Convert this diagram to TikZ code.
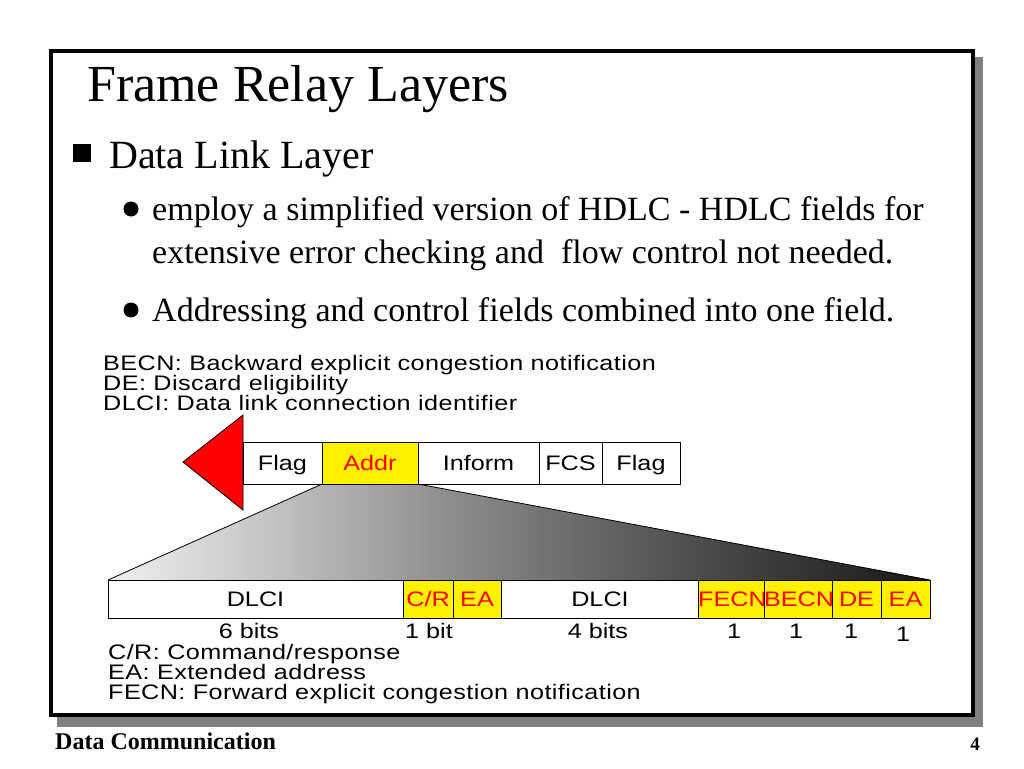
\documentclass[tikz,border=0pt]{standalone}
\usepackage{fontspec}
\setmainfont{Liberation Serif}
\newfontfamily\arialw[FakeStretch=1.2]{Liberation Sans}
\newfontfamily\ariall[FakeStretch=1.2,LetterSpace=2]{Liberation Sans}
\definecolor{shadowgray}{HTML}{808080}
\definecolor{ga}{HTML}{F0F0F0}
\definecolor{gb}{HTML}{C3C3C3}
\definecolor{gc}{HTML}{919191}
\definecolor{gd}{HTML}{646464}
\definecolor{ge}{HTML}{3C3C3C}
\definecolor{gf}{HTML}{181818}
\pgfdeclarehorizontalshading{fan}{100bp}{color(0bp)=(ga); color(25bp)=(ga); color(35bp)=(gb); color(45bp)=(gc); color(55bp)=(gd); color(65bp)=(ge); color(75bp)=(gf); color(100bp)=(gf)}
\begin{document}
\begin{tikzpicture}[x=1pt,y=-1pt,
  slidetxt/.style={inner sep=0pt, anchor=base west},
  diag/.style={font=\arialw\fontsize{21}{21}\selectfont},
  legend/.style={inner sep=0pt, anchor=north west, align=left, font=\ariall\fontsize{21}{20}\selectfont},
  difftxt/.style={diag, inner sep=0pt},
  fbox/.style={draw=black, line width=0.8pt, inner sep=0pt, text height=15pt, text depth=0pt, diag, fill=white},
  topbox/.style={fbox, minimum height=42},
  botbox/.style={fbox, minimum height=38},
  ylw/.style={fill=yellow, text=red},
  dot/.style={circle, fill=black, inner sep=0pt, minimum size=15}]
\useasboundingbox (0,0) rectangle (1024,768);
\fill[white] (0,0) rectangle (1024,768);
% frame
\fill[shadowgray] (57,57) rectangle (983,727);
\draw[line width=4pt, fill=white] (51,51) rectangle (973,715);
% slide text
\node[slidetxt, font=\fontsize{52}{52}\selectfont] (title) at (87,101) {Frame Relay Layers};
\node[fill=black, inner sep=0pt, minimum size=18] (sq) at (82,153) {};
\node[slidetxt, font=\fontsize{40}{40}\selectfont] (dll) at (109,168) {Data Link Layer};
\node[dot] (b1) at (131,209) {};
\node[slidetxt, font=\fontsize{34}{34}\selectfont] (l1) at (152,220) {employ a simplified version of HDLC - HDLC fields for};
\node[slidetxt, font=\fontsize{34}{34}\selectfont] (l2) at (152,263) {extensive error checking and\ \ flow control not needed.};
\node[dot] (b2) at (131,310) {};
\node[slidetxt, font=\fontsize{34}{34}\selectfont] (l3) at (152,321) {Addressing and control fields combined into one field.};
% top legend
\node[legend] (lgtop) at (103,355) {BECN: Backward explicit congestion notification\\DE: Discard eligibility\\DLCI: Data link connection identifier};
% gradient fan
\shade[shading=fan] (322,484) -- (418,484) -- (930,580) -- (108,580) -- cycle;
\coordinate (fl) at (322,484);
\coordinate (fr) at (418,484);
\coordinate (bl) at (108,580);
\coordinate (br) at (930,580);
\draw[line width=0.8pt] (fl) -- (bl);
\draw[line width=0.8pt] (fr) -- (br);
% red triangle
\draw[line width=0.8pt, fill=red] (243,415) -- (243,510) -- (183,462) -- cycle;
% frame boxes
\node[topbox, minimum width=79] (flag1) at (282.5,463) {Flag};
\node[topbox, ylw, minimum width=96] (addr) at (370,463) {Addr};
\node[topbox, minimum width=121] (inform) at (478.5,463) {Inform};
\node[topbox, minimum width=63] (fcs) at (570.5,463) {FCS};
\node[topbox, minimum width=78] (flag2) at (641,463) {Flag};
% address field boxes
\node[botbox, minimum width=295] (dlci1) at (255.5,599) {DLCI};
\node[botbox, ylw, minimum width=50] (cr) at (428,599) {C/R};
\node[botbox, ylw, minimum width=48] (ea1) at (477,599) {EA};
\node[botbox, minimum width=198] (dlci2) at (600,599) {DLCI};
\node[botbox, ylw, minimum width=67] (fecn) at (732.5,599) {FECN};
\node[botbox, ylw, minimum width=66] (becn) at (799,599) {BECN};
\node[botbox, ylw, minimum width=49] (de) at (856.5,599) {DE};
\node[botbox, ylw, minimum width=49] (ea2) at (905.5,599) {EA};
% bit counts
\node[difftxt, anchor=base] (n6) at (249,638.5) {6 bits};
\node[difftxt, anchor=base west] (n1) at (405,638.5) {1 bit};
\node[difftxt, anchor=base] (n4) at (598,638.5) {4 bits};
\node[difftxt, anchor=base] (o1) at (734,638.5) {1};
\node[difftxt, anchor=base] (o2) at (796,638.5) {1};
\node[difftxt, anchor=base] (o3) at (851,638.5) {1};
\node[difftxt, anchor=base] (o4) at (903,641.5) {1};
% bottom legend
\node[legend] (lgbot) at (108,644.5) {C/R: Command/response\\EA: Extended address\\FECN: Forward explicit congestion notification};
% footer
\node[slidetxt, font=\bfseries\fontsize{24}{24}\selectfont] (foot) at (55,749) {Data Communication};
\node[inner sep=0pt, anchor=base, font=\bfseries\fontsize{19}{19}\selectfont] (page) at (975,750) {4};
\end{tikzpicture}
\end{document}
